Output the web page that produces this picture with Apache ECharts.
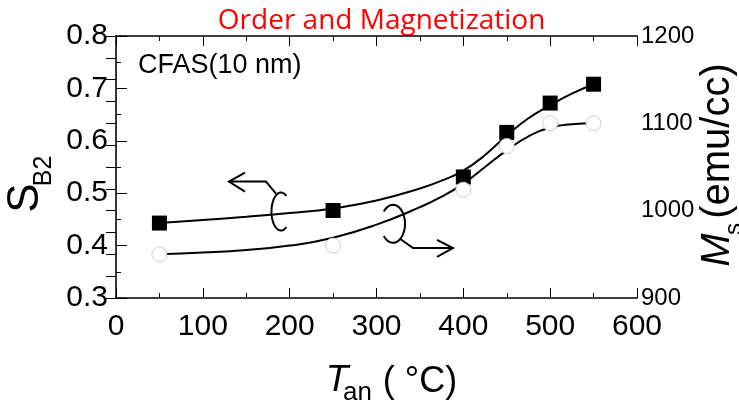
<!DOCTYPE html>
<html><head><meta charset="utf-8">
<script src="https://cdn.jsdelivr.net/npm/echarts@6/dist/echarts.min.js"></script>
<style>html,body{margin:0;padding:0;background:#fff}#c{width:739px;height:405px}</style>
</head><body><div id="c"></div>
<script>
// ---- data ----
const annealT = [50, 250, 400, 450, 500, 550];            // T_an (°C)
const sB2 = [0.443, 0.467, 0.531, 0.616, 0.672, 0.708];    // S_B2 (left axis)
const msVal = [950, 960, 1024, 1074, 1100, 1100];          // Ms (emu/cc, right axis)
const fitSX = [50, 100, 150, 200, 250, 300, 350, 375, 400, 425, 450, 475, 500, 525, 550];
const fitS = [0.443, 0.449, 0.455, 0.462, 0.471, 0.486, 0.509, 0.524, 0.543, 0.573, 0.610, 0.643, 0.668, 0.690, 0.708];
const fitMX = [50, 100, 150, 200, 250, 300, 350, 375, 400, 425, 450, 475, 500, 525, 550];
const fitM = [950, 952, 955, 960, 969, 984, 1004, 1016, 1031, 1050, 1069, 1085, 1095, 1099, 1100];
const xRange = [0, 600, 100];
const yLeftRange = [0.3, 0.8, 0.1];
const yRightRange = [900, 1200, 100];
// annotation anchors (data coords on left axis)
const leftLoopAnchor = [190, 0.465];
const rightLoopAnchor = [319, 0.4416];

const FONT = 'Liberation Sans, Arial, sans-serif';
const chart = echarts.init(document.getElementById('c'), null, {renderer: 'canvas'});
const zip = (a, b) => a.map((v, i) => [v, b[i]]);

const tickStyle = {color: '#000', width: 1};
chart.setOption({
  animation: false,
  backgroundColor: '#fff',
  grid: {left: 116, right: 102, top: 36, bottom: 107, containLabel: false, outerBoundsMode: 'none'},
  xAxis: [{
    type: 'value', min: xRange[0], max: xRange[1], interval: xRange[2], position: 'bottom',
    axisLine: {show: true, lineStyle: {color: '#000', width: 1.5}},
    axisTick: {show: true, inside: true, length: 10, lineStyle: tickStyle},
    minorTick: {show: true, splitNumber: 2, length: 5, lineStyle: tickStyle},
    splitLine: {show: false},
    axisLabel: {show: true, color: '#000', fontSize: 30, fontFamily: FONT, margin: 14}
  }, {
    type: 'value', min: xRange[0], max: xRange[1], interval: xRange[2], position: 'top',
    axisLine: {show: true, lineStyle: {color: '#000', width: 1.5}},
    axisTick: {show: true, inside: true, length: 10, lineStyle: tickStyle},
    minorTick: {show: true, splitNumber: 2, length: 5, lineStyle: tickStyle},
    splitLine: {show: false},
    axisLabel: {show: false}
  }],
  yAxis: [{
    type: 'value', min: yLeftRange[0], max: yLeftRange[1], interval: yLeftRange[2], position: 'left',
    axisLine: {show: true, lineStyle: {color: '#bbb', width: 1}},
    axisTick: {show: true, inside: true, length: 11, lineStyle: tickStyle},
    minorTick: {show: true, splitNumber: 2, length: 5, lineStyle: tickStyle},
    splitLine: {show: false},
    axisLabel: {color: '#000', fontSize: 30, fontFamily: FONT, margin: 8, formatter: v => v.toFixed(1)}
  }, {
    type: 'value', min: yRightRange[0], max: yRightRange[1], interval: yRightRange[2], position: 'right',
    axisLine: {show: true, lineStyle: {color: '#000', width: 1.5}},
    axisTick: {show: true, inside: true, length: 10, lineStyle: tickStyle},
    minorTick: {show: true, splitNumber: 4, length: 10, lineStyle: tickStyle},
    splitLine: {show: false},
    axisLabel: {color: '#000', fontSize: 24, fontFamily: FONT, margin: 4, formatter: v => String(v)}
  }],
  series: [
    {type: 'line', xAxisIndex: 0, yAxisIndex: 0, data: zip(fitSX, fitS), smooth: 0.5, showSymbol: false,
      symbol: 'none', lineStyle: {color: '#000', width: 2}, z: 2},
    {type: 'line', xAxisIndex: 0, yAxisIndex: 1, data: zip(fitMX, fitM), smooth: 0.5, showSymbol: false,
      symbol: 'none', lineStyle: {color: '#000', width: 2}, z: 2},
    {type: 'scatter', xAxisIndex: 0, yAxisIndex: 0, data: zip(annealT, sB2), symbol: 'rect', symbolSize: 15,
      itemStyle: {color: '#000', opacity: 1}, z: 3},
    {type: 'scatter', xAxisIndex: 0, yAxisIndex: 1, data: zip(annealT, msVal), symbol: 'circle', symbolSize: 15,
      itemStyle: {color: '#fff', borderColor: '#ccc', borderWidth: 1, opacity: 1}, z: 4}
  ],
  graphic: [
    {id: 'title', type: 'text', x: 381.6, y: 21.5, style: {text: 'Order and Magnetization', fill: '#ff0000',
      font: '28px "Open Sans", sans-serif', align: 'center', verticalAlign: 'middle'}},
    {id: 'cfas', type: 'text', x: 138, y: 65.5, style: {text: 'CFAS(10 nm)', fill: '#000',
      font: '27px ' + FONT, align: 'left', verticalAlign: 'middle'}},
    {id: 'yS', type: 'text', x: 26, y: 198, rotation: Math.PI / 2, style: {text: 'S', fill: '#000',
      font: '44px ' + FONT, align: 'center', verticalAlign: 'middle'}},
    {id: 'yB2', type: 'text', x: 44, y: 171, rotation: Math.PI / 2, style: {text: 'B2', fill: '#000',
      font: '25px ' + FONT, align: 'center', verticalAlign: 'middle'}},
    {id: 'rM', type: 'text', x: 718, y: 250, rotation: Math.PI / 2, style: {text: 'M', fill: '#000',
      font: 'italic 40px ' + FONT, align: 'center', verticalAlign: 'middle'}},
    {id: 'rs', type: 'text', x: 734, y: 229, rotation: Math.PI / 2, style: {text: 's', fill: '#000',
      font: '24px ' + FONT, align: 'center', verticalAlign: 'middle'}},
    {id: 'rEmu', type: 'text', x: 718, y: 141, rotation: Math.PI / 2, style: {text: '(emu/cc)', fill: '#000',
      font: '40px ' + FONT, align: 'center', verticalAlign: 'middle'}},
    {id: 'xT', type: 'text', x: 337, y: 380.5, style: {text: 'T', fill: '#000',
      font: 'italic 37px ' + FONT, align: 'center', verticalAlign: 'middle'}},
    {id: 'xan', type: 'text', x: 357.5, y: 392.7, style: {text: 'an', fill: '#000',
      font: '26px ' + FONT, align: 'center', verticalAlign: 'middle'}},
    {id: 'xC', type: 'text', x: 420, y: 382.5, style: {text: '( °C)', fill: '#000',
      font: '36px ' + FONT, align: 'center', verticalAlign: 'middle'}}
  ]
});

// ---- annotations: loops with arrows, anchored in data coordinates ----
function ellipsePts(c, rx, ry, t0, t1, n) {
  const pts = [];
  for (let i = 0; i <= n; i++) {
    const t = (t0 + (t1 - t0) * i / n) * Math.PI / 180;
    pts.push([c[0] + rx * Math.cos(t), c[1] + ry * Math.sin(t)]);
  }
  return pts;
}
const L = chart.convertToPixel({xAxisIndex: 0, yAxisIndex: 0}, leftLoopAnchor);
const R = chart.convertToPixel({xAxisIndex: 0, yAxisIndex: 0}, rightLoopAnchor);
const ls = {stroke: '#000', lineWidth: 2, fill: null};
const rel = (c, d) => [c[0] + d[0], c[1] + d[1]];
chart.setOption({
  graphic: [
    {id: 'loopL', type: 'polyline', shape: {points: ellipsePts(L, 9.5, 19, -55, -305, 40)}, style: ls, z: 10},
    {id: 'armL', type: 'polyline', shape: {points: [rel(L, [-5, -18]), rel(L, [-15, -30]), rel(L, [-52, -30])]}, style: ls, z: 10},
    {id: 'headL', type: 'polyline', shape: {points: [rel(L, [-36, -39]), rel(L, [-52, -30]), rel(L, [-36, -20])]}, style: ls, z: 10},
    {id: 'loopR', type: 'polyline', shape: {points: ellipsePts(R, 12, 19, -140, 140, 40)}, style: ls, z: 10},
    {id: 'armR', type: 'polyline', shape: {points: [rel(R, [7, 15]), rel(R, [20, 24.3]), rel(R, [60, 24.3])]}, style: ls, z: 10},
    {id: 'headR', type: 'polyline', shape: {points: [rel(R, [44, 16]), rel(R, [60, 24.3]), rel(R, [44, 33])]}, style: ls, z: 10}
  ]
});
</script>
</body></html>
